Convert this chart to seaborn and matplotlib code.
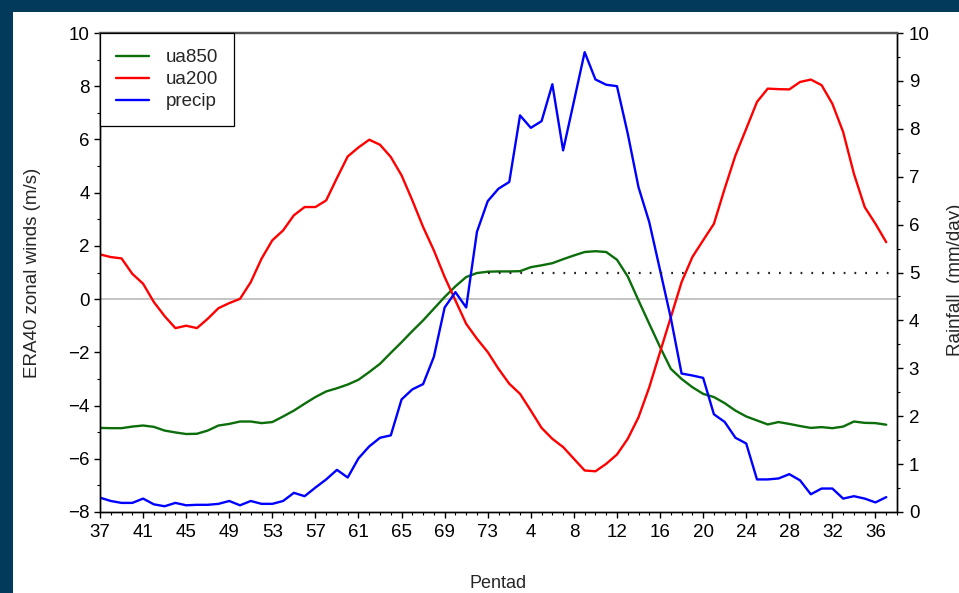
import numpy as np
import pandas as pd
import matplotlib
matplotlib.use("Agg")
import matplotlib.pyplot as plt
import seaborn as sns
from matplotlib.patches import Rectangle
from matplotlib.ticker import MultipleLocator, FixedLocator

# ---------------- data ----------------
pentads = list(range(37, 74)) + list(range(1, 38))

ua850 = [-4.84, -4.85, -4.85, -4.79, -4.75, -4.80, -4.94, -5.01, -5.07, -5.06,
         -4.94, -4.75, -4.69, -4.60, -4.60, -4.66, -4.62, -4.41, -4.19, -3.93,
         -3.68, -3.47, -3.35, -3.21, -3.03, -2.74, -2.43, -2.02, -1.62, -1.20,
         -0.80, -0.36, 0.08, 0.48, 0.83, 0.98, 1.03, 1.04, 1.04, 1.05,
         1.20, 1.27, 1.35, 1.50, 1.64, 1.77, 1.80, 1.77, 1.48, 0.85,
         -0.05, -0.93, -1.80, -2.62, -3.00, -3.31, -3.56, -3.68, -3.91, -4.19,
         -4.41, -4.56, -4.71, -4.62, -4.69, -4.77, -4.84, -4.81, -4.85, -4.79,
         -4.60, -4.65, -4.66, -4.72]

ua200 = [1.68, 1.58, 1.53, 0.95, 0.58, -0.11, -0.64, -1.09, -1.00, -1.09,
         -0.74, -0.34, -0.15, 0.01, 0.64, 1.52, 2.21, 2.58, 3.15, 3.46,
         3.46, 3.71, 4.55, 5.36, 5.70, 5.99, 5.80, 5.34, 4.65, 3.71,
         2.71, 1.83, 0.83, -0.05, -0.93, -1.49, -1.99, -2.62, -3.18, -3.56,
         -4.19, -4.84, -5.25, -5.56, -6.00, -6.44, -6.47, -6.19, -5.84, -5.25,
         -4.44, -3.31, -1.99, -0.68, 0.64, 1.58, 2.21, 2.83, 4.15, 5.40,
         6.40, 7.41, 7.91, 7.89, 7.88, 8.16, 8.25, 8.04, 7.34, 6.28,
         4.71, 3.46, 2.83, 2.14]

precip = [0.30, 0.23, 0.19, 0.19, 0.28, 0.16, 0.12, 0.19, 0.14, 0.15,
          0.15, 0.17, 0.23, 0.14, 0.23, 0.17, 0.17, 0.23, 0.40, 0.33,
          0.51, 0.68, 0.88, 0.72, 1.12, 1.37, 1.55, 1.60, 2.35, 2.56,
          2.67, 3.24, 4.27, 4.59, 4.27, 5.85, 6.49, 6.75, 6.89, 8.28,
          8.02, 8.16, 8.93, 7.55, 8.57, 9.60, 9.03, 8.92, 8.89, 7.90,
          6.78, 6.05, 5.05, 4.05, 2.89, 2.85, 2.80, 2.04, 1.88, 1.55,
          1.43, 0.68, 0.68, 0.70, 0.79, 0.66, 0.37, 0.49, 0.49, 0.28,
          0.33, 0.28, 0.20, 0.31]

threshold = 5.0          # mm/day dotted reference
threshold_from = 36      # position (pentad 73) where dotted line starts

series_names = ["ua850", "ua200", "precip"]
series_colors = ["#0b6e0b", "#ff0000", "#0000ff"]

df = pd.DataFrame({"pos": np.arange(len(pentads)), "pentad": pentads,
                   "ua850": ua850, "ua200": ua200, "precip": precip})

# ---------------- style ----------------
sns.set_style("ticks")
plt.rcParams["font.family"] = ["Liberation Sans", "DejaVu Sans"]
plt.rcParams["axes.unicode_minus"] = True

W, H = 959, 593
fig = plt.figure(figsize=(W / 100, H / 100), dpi=100)
fig.patch.set_facecolor("#023a5c")
fig.add_artist(Rectangle((13 / W, 0), 1, (H - 12) / H, transform=fig.transFigure,
                         facecolor="white", edgecolor="none", zorder=-10))

ax = fig.add_axes([100 / W, (H - 512) / H, 797 / W, 479 / H])
ax2 = ax.twinx()

ax.axhline(0, color="#b4b4b4", lw=1.1, zorder=0)

sns.lineplot(data=df, x="pos", y="ua850", ax=ax, color=series_colors[0],
             lw=1.7, label=series_names[0], legend=False)
sns.lineplot(data=df, x="pos", y="ua200", ax=ax, color=series_colors[1],
             lw=1.7, label=series_names[1], legend=False)
sns.lineplot(data=df, x="pos", y="precip", ax=ax2, color=series_colors[2],
             lw=1.7, label=series_names[2], legend=False)

xmax = len(pentads)
ax2.hlines(threshold, threshold_from, xmax, colors="#222222", lw=1.6,
           linestyles=(0, (0.8, 4.05)))

ax.set_xlim(0, xmax)
ax.set_ylim(-8, 10)
ax2.set_ylim(0, 10)

tick_pos = list(range(0, xmax, 4))
tick_labels = [str(pentads[i]) for i in tick_pos]
ax.xaxis.set_major_locator(FixedLocator(tick_pos))
ax.set_xticklabels(tick_labels)
ax.xaxis.set_minor_locator(MultipleLocator(1))
ax.yaxis.set_major_locator(MultipleLocator(2))
ax.yaxis.set_minor_locator(MultipleLocator(1))
ax2.yaxis.set_major_locator(MultipleLocator(1))
ax2.yaxis.set_minor_locator(MultipleLocator(0.5))

fs = 13.5
for a in (ax, ax2):
    a.tick_params(which="major", length=4, width=1, color="black",
                  labelsize=fs, labelcolor="black", direction="out")
    a.tick_params(which="minor", length=2.2, width=0.8, color="black",
                  direction="out")
ax.tick_params(axis="x", pad=4.5)
ax.tick_params(axis="y", pad=3.5)
ax2.tick_params(axis="y", pad=4.5)
ax.tick_params(top=False, which="both")

for a in (ax, ax2):
    for s in ("left", "right", "bottom"):
        a.spines[s].set_color("black")
        a.spines[s].set_linewidth(1.0)
    a.spines["top"].set_color("#555555")
    a.spines["top"].set_linewidth(1.6)

ax.set_xlabel("")
ax.set_ylabel("")
ax2.set_ylabel("")

fig.text(498 / W, 1 - 588 / H, "Pentad", ha="center", va="baseline",
         fontsize=13)
fig.text(33 / W, 1 - 273 / H, "ERA40 zonal winds (m/s)", rotation=90,
         ha="center", va="center", fontsize=13.5)
fig.text(947 / W, 1 - 280 / H, "Rainfall  (mm/day)", rotation=90,
         ha="left", va="center", fontsize=13.5)

handles = ax.get_lines()[1:3] + [ax2.get_lines()[0]]
leg = ax2.legend(handles, series_names, loc="upper left", bbox_to_anchor=(0, 1),
                 borderaxespad=0, fancybox=False, frameon=True, framealpha=1,
                 edgecolor="black", handlelength=1.75, handletextpad=0.9,
                 labelspacing=0.27, borderpad=0.85, fontsize=fs)
leg.get_frame().set_linewidth(0.9)

fig.savefig("out.png", dpi=100, facecolor=fig.get_facecolor())
